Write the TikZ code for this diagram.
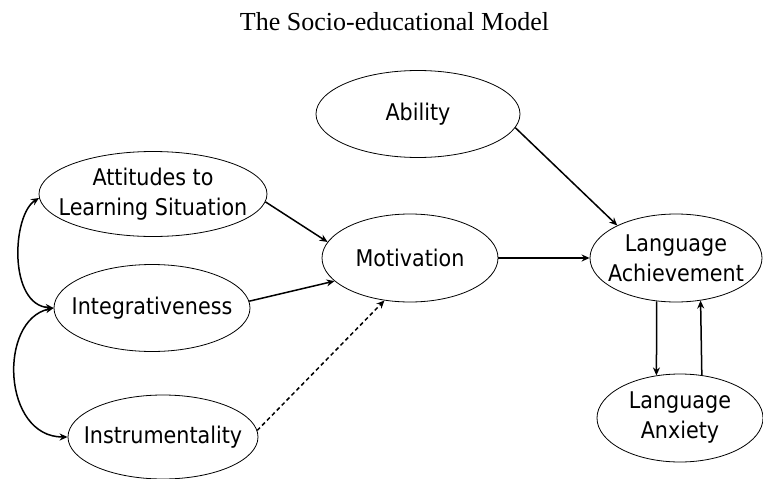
\documentclass[tikz,border=0pt]{standalone}
\usepackage{fontspec}
\setmainfont{Liberation Serif}
\newfontfamily\nodefont{DejaVu Sans Condensed}
\usetikzlibrary{shapes.geometric,arrows.meta}
\begin{document}
\begin{tikzpicture}[x=1pt,y=-1pt,
  var/.style={draw,ellipse,inner sep=0pt,line width=0.8pt},
  lab/.style={align=center,inner sep=0pt,font=\nodefont\fontsize{23}{30}\selectfont},
  path/.style={line width=1.5pt,-{Stealth[length=8pt,width=7pt]}},
  dpath/.style={path,dashed,dash pattern=on 4pt off 3pt},
  both/.style={line width=1.5pt,{Stealth[length=8pt,width=7pt]}-{Stealth[length=8pt,width=7pt]}}]
\useasboundingbox (0,0) rectangle (763,479);
\node[anchor=base,font=\fontsize{26}{30}\selectfont] (title) at (394.5,30) {The Socio-educational Model};
\node[var,minimum width=204pt,minimum height=87pt,label={[lab]center:Ability}] (abi) at (418,114) {};
\node[var,minimum width=228pt,minimum height=85pt,label={[lab]center:Attitudes to\\Learning Situation}] (att) at (153,194) {};
\node[var,minimum width=196pt,minimum height=87pt,label={[lab]center:Integrativeness}] (int) at (152,308) {};
\node[var,minimum width=190pt,minimum height=84pt,label={[lab]center:Instrumentality}] (ins) at (163,437) {};
\node[var,minimum width=176pt,minimum height=88pt,label={[lab]center:Motivation}] (mot) at (410,258) {};
\node[var,minimum width=172pt,minimum height=88pt,label={[lab]center:Language\\Achievement}] (ach) at (676,258) {};
\node[var,minimum width=166pt,minimum height=88pt,label={[lab]center:Language\\Anxiety}] (anx) at (680,418) {};
\draw[path] (att.-4) -- (mot.169);
\draw[path] (int.4) -- (mot.197);
\draw[dpath] (ins.4) -- (mot.239);
\draw[path] (mot.east) -- (ach.west);
\draw[path] (abi.-8) -- (ach.151);
\draw[path] (ach.246) -- (anx.119);
\draw[path] (anx.63) -- (ach.300);
\draw[both] (att.182) .. controls (12,215) and (8,305) .. (int.180);
\draw[both] (int.180) .. controls (-2,320) and (2,437) .. (ins.180);
\end{tikzpicture}
\end{document}
